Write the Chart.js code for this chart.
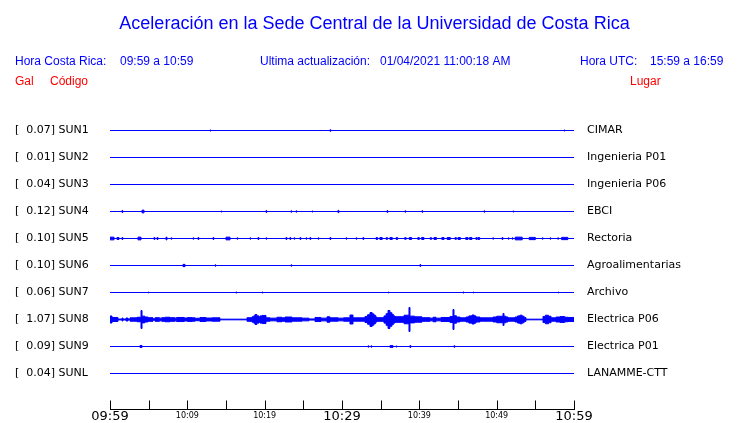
<!DOCTYPE html>
<html><head><meta charset="utf-8">
<script src="https://cdn.jsdelivr.net/npm/chart.js@4/dist/chart.umd.min.js"></script>
<style>html,body{margin:0;padding:0;background:#fff}#wrap{width:740px;height:423px;position:relative}</style>
</head><body><div id="wrap"><canvas id="c"></canvas></div>
<script>
// ---------- data ----------
const TITLE = 'Aceleración en la Sede Central de la Universidad de Costa Rica';
const STATIONS = ['SUN1','SUN2','SUN3','SUN4','SUN5','SUN6','SUN7','SUN8','SUN9','SUNL'];
const PEAKS = ['0.07','0.01','0.04','0.12','0.10','0.10','0.06','1.07','0.09','0.04'];
const PLACES = ['CIMAR','Ingenieria P01','Ingenieria P06','EBCI','Rectoria','Agroalimentarias','Archivo','Electrica P06','Electrica P01','LANAMME-CTT'];
const TICK_LABELS = ['09:59','','10:09','','10:19','','10:29','','10:39','','10:49','','10:59'];
const SPAN_MIN = 60; // minutes shown, 09:59 -> 10:59

// events: [start minute, end minute, amplitude (Gal)]
const SUN1 = [[12.93,13.03,0.05],[28.45,28.55,0.07],[58.7,58.8,0.05]];
const SUN2 = [];
const SUN3 = [];
const SUN4 = [[1.55,1.65,0.09],[4.14,4.4,0.12],[14.35,14.45,0.05],[20.17,20.27,0.08],[23.4,23.5,0.06],[24.05,24.15,0.06],[26.12,26.22,0.05],[29.48,29.6,0.1],[35.82,35.92,0.08],[38.14,38.24,0.06],[40.34,40.44,0.07],[48.36,48.46,0.06],[52.11,52.21,0.05]];
const SUN5 = [[0,0.52,0.12],[0.91,1.16,0.09],[1.55,1.65,0.09],[3.62,4.01,0.12],[5.69,5.79,0.09],[6.08,6.21,0.09],[7.24,7.37,0.12],[7.89,7.99,0.06],[10.73,10.83,0.06],[11.38,11.48,0.09],[13.32,13.42,0.09],[15.0,15.52,0.12],[16.42,16.52,0.06],[18.1,18.2,0.06],[19.14,19.24,0.09],[20.17,20.27,0.06],[22.76,22.86,0.09],[23.27,23.37,0.09],[23.79,23.89,0.06],[24.57,24.67,0.09],[25.34,25.44,0.06],[25.86,25.96,0.09],[26.9,27.0,0.06],[28.45,28.55,0.09],[30.52,30.62,0.06],[31.81,31.91,0.06],[32.71,32.81,0.09],[34.4,34.6,0.08],[34.9,35.2,0.09],[35.7,35.9,0.07],[36.2,36.5,0.09],[37.0,37.2,0.08],[38.1,38.3,0.07],[38.7,39.0,0.09],[39.8,40.0,0.08],[40.3,40.6,0.09],[41.4,41.6,0.07],[41.9,42.2,0.09],[42.9,43.2,0.08],[43.6,44.0,0.09],[44.6,44.8,0.07],[45.0,45.3,0.09],[46.0,46.3,0.08],[46.5,46.8,0.09],[47.3,47.5,0.07],[47.6,47.8,0.09],[49.5,49.6,0.06],[50.7,50.8,0.09],[51.5,51.6,0.06],[52.0,52.1,0.06],[52.4,53.3,0.12],[54.2,55.0,0.1],[55.9,56.0,0.06],[56.9,57.0,0.06],[57.9,58.0,0.06],[58.4,59.2,0.1]];
const SUN6 = [[9.44,9.7,0.1],[13.58,13.68,0.06],[23.4,23.5,0.06],[40.08,40.18,0.08]];
const SUN7 = [[4.91,5.01,0.04],[16.29,16.39,0.05],[19.65,19.75,0.05],[35.95,36.05,0.04],[45.65,45.75,0.05],[46.94,47.04,0.04],[57.93,58.03,0.04]];
// SUN8 amplitude envelope: [minute, amplitude (Gal)] held until the next entry
const SUN8_ENVELOPE = [[0,0.31],[0.26,0.18],[1.03,0.04],[1.55,0.13],[1.68,0.04],[2.07,0.13],[2.33,0.04],[2.59,0.15],[3.49,0.2],[4.01,0.8],[4.14,0.3],[4.5,0.22],[4.91,0.16],[5.56,0.06],[5.82,0.16],[6.4,0.12],[6.7,0.16],[7.11,0.2],[7.76,0.16],[8.4,0.12],[8.6,0.18],[9.05,0.18],[9.6,0.13],[10.0,0.17],[10.6,0.15],[11.0,0.11],[11.64,0.18],[12.4,0.13],[13.19,0.15],[14.22,0.03],[17.72,0.16],[18.36,0.24],[18.6,0.33],[18.75,0.44],[19.0,0.32],[19.27,0.22],[19.4,0.32],[19.66,0.36],[20.17,0.15],[20.69,0.12],[21.59,0.2],[22.24,0.15],[22.63,0.22],[23.53,0.15],[24.83,0.12],[25.73,0.05],[26.51,0.18],[27.28,0.12],[28.06,0.24],[28.45,0.15],[29.5,0.12],[30.2,0.15],[31.03,0.4],[31.42,0.15],[32.97,0.27],[33.3,0.42],[33.62,0.62],[33.9,0.5],[34.14,0.37],[34.35,0.22],[34.53,0.16],[35.43,0.32],[35.7,0.52],[35.95,0.8],[36.2,0.6],[36.46,0.45],[36.65,0.32],[36.85,0.25],[38.02,0.38],[38.66,1.07],[38.79,0.3],[39.4,0.24],[40.34,0.16],[41.38,0.12],[41.77,0.2],[42.16,0.12],[42.8,0.18],[43.97,0.27],[44.35,0.89],[44.48,0.33],[44.8,0.22],[45.26,0.15],[46.03,0.22],[46.4,0.32],[46.81,0.4],[47.1,0.32],[47.33,0.22],[47.84,0.15],[49.53,0.22],[50.0,0.29],[50.82,0.53],[50.95,0.29],[51.2,0.22],[51.47,0.15],[52.37,0.22],[52.7,0.32],[53.0,0.38],[53.3,0.29],[53.55,0.17],[53.79,0.03],[55.99,0.27],[56.3,0.38],[56.7,0.29],[57.03,0.15],[57.67,0.22],[58.2,0.26],[58.8,0.2],[59.22,0.18]];
const SUN9 = [[3.88,4.14,0.09],[33.36,33.46,0.06],[33.75,33.85,0.06],[36.2,36.6,0.08],[36.98,37.08,0.05],[38.79,38.89,0.09],[44.48,44.58,0.07]];
const SUNL = [];

// ---------- build ----------
const SUN8 = SUN8_ENVELOPE.map((p, i) => [p[0], (SUN8_ENVELOPE[i + 1] || [SPAN_MIN])[0], p[1]]);
const TRACES = [SUN1, SUN2, SUN3, SUN4, SUN5, SUN6, SUN7, SUN8, SUN9, SUNL];

const ROW = 2.4;                 // Gal between trace baselines
const YMAX = ROW + 0.5 / 11.25;  // half-pixel alignment
const YMIN = YMAX - 27.2;
const bases = STATIONS.map((_, i) => -i * ROW);

function toSteps(events) {
  const pts = [[0, 0]];
  events.forEach(([a, b, v]) => {
    const last = pts[pts.length - 1];
    if (last[0] === a) last[1] = v; else pts.push([a, v]);
    pts.push([b, 0]);
  });
  if (pts[pts.length - 1][0] < SPAN_MIN) pts.push([SPAN_MIN, 0]);
  return pts;
}

const datasets = [];
TRACES.forEach((ev, i) => {
  const steps = toSteps(ev);
  datasets.push({
    label: STATIONS[i] + '+',
    data: steps.map(([t, a]) => ({x: t, y: bases[i] + a})),
    borderColor: '#0000ff', borderWidth: 1, pointRadius: 0, stepped: true, fill: false
  });
  datasets.push({
    label: STATIONS[i] + '-',
    data: steps.map(([t, a]) => ({x: t, y: bases[i] - a})),
    borderColor: '#0000ff', backgroundColor: '#0000ff', borderWidth: 1, pointRadius: 0, stepped: true, fill: '-1'
  });
});

const decor = {
  id: 'decor',
  afterDraw(chart) {
    const {ctx, chartArea} = chart;
    const xs = chart.scales.x;
    ctx.save();
    ctx.strokeStyle = '#000'; ctx.lineWidth = 1;
    const yb = Math.round(chartArea.bottom) + 0.5;
    ctx.beginPath();
    ctx.moveTo(Math.round(xs.getPixelForValue(0)), yb);
    ctx.lineTo(Math.round(xs.getPixelForValue(SPAN_MIN)) + 1, yb);
    xs.ticks.forEach(t => {
      const px = Math.round(xs.getPixelForValue(t.value)) + 0.5;
      ctx.moveTo(px, yb); ctx.lineTo(px, yb - 9);
    });
    ctx.stroke();

    ctx.textBaseline = 'alphabetic';
    ctx.fillStyle = '#0000ff';
    ctx.textAlign = 'center';
    ctx.font = '18px "Liberation Sans", Arial, sans-serif';
    ctx.fillText(TITLE, 374.5, 29);
    ctx.textAlign = 'left';
    ctx.font = '12px "Liberation Sans", Arial, sans-serif';
    ctx.fillText('Hora Costa Rica:', 15, 65);
    ctx.fillText('09:59 a 10:59', 120, 65);
    ctx.fillText('Ultima actualización:', 260, 65);
    ctx.fillText('01/04/2021 11:00:18 AM', 380, 65);
    ctx.fillText('Hora UTC:', 580, 65);
    ctx.fillText('15:59 a 16:59', 650, 65);
    ctx.fillStyle = '#ff0000';
    ctx.fillText('Gal', 15, 85);
    ctx.fillText('Código', 50, 85);
    ctx.fillText('Lugar', 630, 85);
    ctx.restore();
  }
};

function fitY(width) {
  return (s) => { s.width = width; s.paddingTop = 0; s.paddingBottom = 0; };
}

const yCommon = {
  min: YMIN, max: YMAX,
  grid: {display: false, drawTicks: false},
  border: {display: false},
  afterBuildTicks: (s) => { s.ticks = bases.map(v => ({value: v})); }
};

new Chart(document.getElementById('c'), {
  type: 'line',
  data: {datasets},
  options: {
    responsive: true, maintainAspectRatio: false, animation: false, events: [],
    layout: {padding: {top: 103, left: 15, right: 0, bottom: 0}},
    plugins: {legend: {display: false}, title: {display: false}, tooltip: {enabled: false}},
    scales: {
      x: {
        type: 'linear', min: 0, max: SPAN_MIN, position: 'bottom',
        grid: {display: false, drawTicks: false}, border: {display: false},
        ticks: {
          stepSize: 5, autoSkip: false, maxRotation: 0, padding: 0, color: '#000',
          font: (c) => (c.tick && c.tick.value % 30 === 0)
            ? {family: 'DejaVu Sans', size: 13, lineHeight: 1.1}
            : {family: 'DejaVu Sans', size: 8, lineHeight: 1.79},
          callback: (v, i) => TICK_LABELS[i]
        },
        afterFit: (s) => { s.height = 14; s.paddingTop = 0; s.paddingBottom = 0; }
      },
      y: Object.assign({}, yCommon, {
        position: 'left',
        ticks: {autoSkip: false, crossAlign: 'far', padding: 0, color: '#000',
          font: {family: 'DejaVu Sans', size: 11},
          callback: (v, i) => '[  ' + PEAKS[i] + '] ' + STATIONS[i]},
        afterFit: fitY(95)
      }),
      y2: Object.assign({}, yCommon, {
        position: 'right',
        ticks: {autoSkip: false, crossAlign: 'near', padding: 13, color: '#000',
          font: {family: 'DejaVu Sans', size: 11},
          callback: (v, i) => PLACES[i]},
        afterFit: fitY(166)
      })
    }
  },
  plugins: [decor]
});
</script>
</body></html>
